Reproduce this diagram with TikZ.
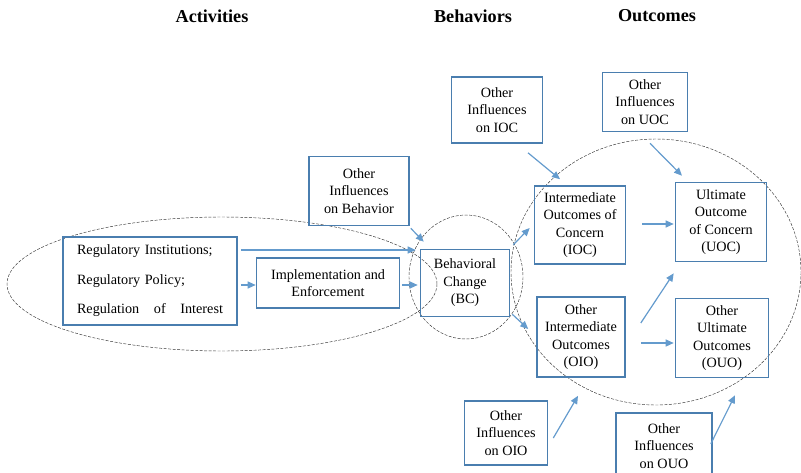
\documentclass[tikz,border=0pt]{standalone}
\usepackage{fontspec}
\setmainfont{Liberation Serif}
\usetikzlibrary{arrows.meta}
\definecolor{boxc}{RGB}{74,126,175}
\definecolor{arrc}{RGB}{100,155,205}
\begin{document}
\begin{tikzpicture}[x=1pt,y=-1pt,
  box/.style={draw=boxc, line width=1.6pt, align=center, inner sep=0pt,
    font=\fontsize{14.2}{17.5}\selectfont},
  arr/.style={draw=arrc, line width=1.2pt, -{Triangle[length=8pt,width=7pt]}},
  ell/.style={draw=black!80, line width=0.45pt, dash pattern=on 3pt off 1.5pt},
  ttl/.style={font=\fontsize{18.2}{20}\selectfont\bfseries}]
\useasboundingbox (0,0) rectangle (801,472);
\clip (0,0) rectangle (801,472);
% titles
\node[ttl] (t1) at (212,16) {Activities};
\node[ttl] (t2) at (473,16) {Behaviors};
\node[ttl] (t3) at (657,16) {Outcomes};
% grouping ellipses
\draw[ell] (222,284) ellipse [x radius=215, y radius=67];
\draw[ell] (466,277) ellipse [x radius=57, y radius=62];
\draw[ell] (656,272) ellipse [x radius=145, y radius=133];
% boxes
\node[box, minimum width=174pt, minimum height=88pt, text width=146pt, align=left] (reg) at (150,281)
  {Regulatory Institutions;\\[12pt]Regulatory Policy;\\[12pt]\hbox to 146pt{Regulation\hfill of\hfill Interest}};
\node[box, minimum width=143pt, minimum height=50pt] (impl) at (328,283) {Implementation and\\Enforcement};
\node[box, minimum width=100pt, minimum height=69pt] (oib) at (359,191) {Other\\Influences\\on Behavior};
\node[box, minimum width=89pt, minimum height=67pt] (bc) at (465,283) {Behavioral\\Change\\(BC)};
\node[box, minimum width=91pt, minimum height=78pt] (ioc) at (580,225) {Intermediate\\Outcomes of\\Concern\\(IOC)};
\node[box, minimum width=91pt, minimum height=79pt] (uoc) at (721,222) {Ultimate\\Outcome\\of Concern\\(UOC)};
\node[box, minimum width=88pt, minimum height=80pt] (oio) at (581,337) {Other\\Intermediate\\Outcomes\\(OIO)};
\node[box, minimum width=93pt, minimum height=79pt] (ouo) at (722,338) {Other\\Ultimate\\Outcomes\\(OUO)};
\node[box, minimum width=91pt, minimum height=66pt] (oiioc) at (497,110) {Other\\Influences\\on IOC};
\node[box, minimum width=85pt, minimum height=59pt] (oiuoc) at (645,102) {Other\\Influences\\on UOC};
\node[box, minimum width=83pt, minimum height=64pt] (oioio) at (506,433) {Other\\Influences\\on OIO};
\node[box, minimum width=96pt, minimum height=66pt, anchor=north] (oiouo) at (664,412) {Other\\Influences\\on OUO};
% connectors
\draw[arr] ([xshift=3pt]reg.east |- 0,250) -- ([xshift=-4pt]bc.west |- 0,250);
\draw[arr] ([xshift=3pt]reg.east |- 0,285) -- (impl.west |- 0,285);
\draw[arr] ([xshift=2pt]impl.east |- 0,285) -- ([xshift=-2pt]bc.west |- 0,285);
\draw[arr] ([shift={(1pt,-2pt)}]oib.south east) -- ([shift={(4pt,7pt)}]bc.north west);
\draw[arr] ([shift={(31pt,-9pt)}]oiioc.south) -- ([shift={(-20pt,6pt)}]ioc.north);
\draw[arr] ([shift={(5pt,-11pt)}]oiuoc.south) -- ([shift={(-39pt,6pt)}]uoc.north);
\draw[arr] ([shift={(3pt,4pt)}]bc.north east) -- ([shift={(-4pt,-3pt)}]ioc.west);
\draw[arr] ([shift={(2pt,3pt)}]bc.south east) -- ([shift={(-8pt,8pt)}]oio.west);
\draw[arr] ([xshift=16pt]ioc.east |- 0,224) -- ([xshift=-1pt]uoc.west |- 0,224);
\draw[arr] ([shift={(15pt,14pt)}]oio.east) -- ([shift={(-1pt,-11pt)}]uoc.south west);
\draw[arr] ([xshift=15pt]oio.east |- 0,343) -- ([xshift=-1pt]ouo.west |- 0,343);
\draw[arr] ([shift={(5pt,-5pt)}]oioio.east) -- ([shift={(-3pt,-18pt)}]oio.south);
\draw[arr] ([shift={(-2pt,2pt)}]oiouo.east) -- ([shift={(13pt,-17pt)}]ouo.south);
\end{tikzpicture}
\end{document}
